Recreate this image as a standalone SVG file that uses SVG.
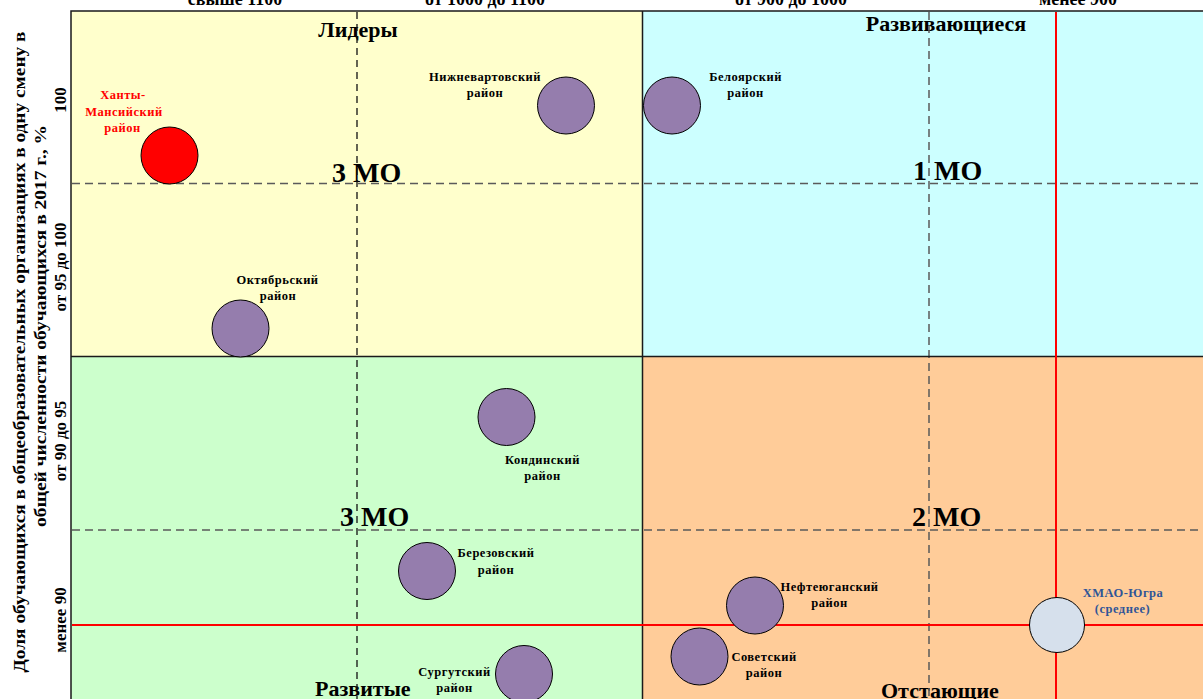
<svg xmlns="http://www.w3.org/2000/svg" width="1203" height="699" viewBox="0 0 1203 699">
<style>
text{font-family:"Liberation Serif","Times New Roman",serif;font-weight:bold;fill:#000}
.ax{font-size:17px}
.top{font-size:18px}
.q{font-size:22px}
.mo{font-size:28px}
.lbl{font-size:12.5px;letter-spacing:0.5px;text-anchor:middle}
.red{fill:#FF0000}
.blue{fill:#2F5597}
.dot{fill:#957DAD;stroke:#000;stroke-width:1}
.dh{stroke:#5A5A5A;stroke-width:1.5;stroke-dasharray:8 5;fill:none}
.dv{stroke:#111;stroke-width:1.3;stroke-dasharray:7 5;fill:none}
.dv2{stroke:#5A5A5A;stroke-width:1.5;stroke-dasharray:8 5;fill:none}
.solid{stroke:#1a1a1a;stroke-width:1.5;fill:none}
.rl{stroke:#FF0000;stroke-width:2;fill:none}
</style>
<rect width="1203" height="699" fill="#FFFFFF"/>
<g id="quadrants">
<rect x="71" y="11" width="571.5" height="345.5" fill="#FFFFCC"/>
<rect x="642.5" y="11" width="560.5" height="345.5" fill="#CCFFFF"/>
<rect x="71" y="356.5" width="571.5" height="342.5" fill="#CCFFCC"/>
<rect x="642.5" y="356.5" width="560.5" height="342.5" fill="#FFCC99"/>
</g>
<g id="axis-labels">
<text class="top" x="235" y="4.5" text-anchor="middle">свыше 1100</text>
<text class="top" x="485" y="4.5" text-anchor="middle">от 1000 до 1100</text>
<text class="top" x="791" y="4.5" text-anchor="middle">от 900 до 1000</text>
<text class="top" x="1078" y="4.5" text-anchor="middle">менее 900</text>
<text class="ax" transform="translate(25,352) rotate(-90)" text-anchor="middle" textLength="641" lengthAdjust="spacingAndGlyphs">Доля обучающихся в общеобразовательных организациях в одну смену в</text>
<text class="ax" transform="translate(46,326) rotate(-90)" text-anchor="middle" textLength="402" lengthAdjust="spacingAndGlyphs">общей численности обучающихся в 2017 г., %</text>
<text class="ax" transform="translate(66,100) rotate(-90)" text-anchor="middle">100</text>
<text class="ax" transform="translate(66,267) rotate(-90)" text-anchor="middle">от 95 до 100</text>
<text class="ax" transform="translate(66,441) rotate(-90)" text-anchor="middle">от 90 до 95</text>
<text class="ax" transform="translate(66,620) rotate(-90)" text-anchor="middle">менее 90</text>
</g>
<g id="quadrant-titles">
<text class="q" x="358" y="37" text-anchor="middle">Лидеры</text>
<text class="q" x="946" y="31" text-anchor="middle">Развивающиеся</text>
<text class="q" x="315" y="696">Развитые</text>
<text class="q" x="881" y="698">Отстающие</text>
<text class="mo" x="332" y="182">3 МО</text>
<text class="mo" x="913" y="180">1 МО</text>
<text class="mo" x="340" y="526">3 МО</text>
<text class="mo" x="912" y="526">2 МО</text>
</g>
<g id="connectors">
<line class="dh" x1="72" y1="183.5" x2="1203" y2="183.5"/>
<line class="dh" x1="72" y1="530" x2="1203" y2="530"/>
<line class="dv" x1="357" y1="12" x2="357" y2="699"/>
<line class="dv2" x1="929" y1="12" x2="929" y2="699"/>
<line class="solid" x1="642.5" y1="11" x2="642.5" y2="699"/>
<line class="solid" x1="71" y1="356.5" x2="1203" y2="356.5"/>
<line class="rl" x1="72" y1="625" x2="1203" y2="625"/>
<line class="rl" x1="1056" y1="12" x2="1056" y2="699"/>
<path class="solid" d="M71,699 V11 H1203"/>
</g>
<g id="node-hanty">
<circle cx="169.5" cy="155.5" r="28.5" fill="#FF0000" stroke="#000" stroke-width="1"/>
<text class="lbl red" x="123" y="99">Ханты-</text>
<text class="lbl red" x="124" y="115.5">Мансийский</text>
<text class="lbl red" x="122.5" y="131.5">район</text>
</g>
<g id="node-nizhnevartovsk">
<circle class="dot" cx="566" cy="105.5" r="28.5"/>
<text class="lbl" x="485" y="81">Нижневартовский</text>
<text class="lbl" x="485" y="97">район</text>
</g>
<g id="node-beloyarsk">
<circle class="dot" cx="672" cy="105.5" r="28.5"/>
<text class="lbl" x="745.5" y="81">Белоярский</text>
<text class="lbl" x="745.5" y="97">район</text>
</g>
<g id="node-oktyabr">
<circle class="dot" cx="240.5" cy="328.5" r="28.5"/>
<text class="lbl" x="277.5" y="283.5">Октябрьский</text>
<text class="lbl" x="278" y="299.5">район</text>
</g>
<g id="node-kondinsk">
<circle class="dot" cx="506.5" cy="417" r="28.5"/>
<text class="lbl" x="542.5" y="464">Кондинский</text>
<text class="lbl" x="542.5" y="480">район</text>
</g>
<g id="node-berezovo">
<circle class="dot" cx="427" cy="571" r="28.5"/>
<text class="lbl" x="496" y="557">Березовский</text>
<text class="lbl" x="496" y="574">район</text>
</g>
<g id="node-surgut">
<circle class="dot" cx="524" cy="674" r="28.5"/>
<text class="lbl" x="454.5" y="676">Сургутский</text>
<text class="lbl" x="454.5" y="692">район</text>
</g>
<g id="node-nefteyugansk">
<circle class="dot" cx="755" cy="605.5" r="28.5"/>
<text class="lbl" x="829.5" y="591">Нефтеюганский</text>
<text class="lbl" x="829.5" y="606.5">район</text>
</g>
<g id="node-sovetsky">
<circle class="dot" cx="699.5" cy="656.5" r="28.5"/>
<text class="lbl" x="764" y="661">Советский</text>
<text class="lbl" x="764" y="677">район</text>
</g>
<g id="node-hmao">
<circle cx="1057" cy="625" r="27.5" fill="#D6E0EC" stroke="#000" stroke-width="1"/>
<text class="lbl blue" x="1123" y="597">ХМАО-Югра</text>
<text class="lbl blue" x="1122.5" y="613">(среднее)</text>
</g>
</svg>
